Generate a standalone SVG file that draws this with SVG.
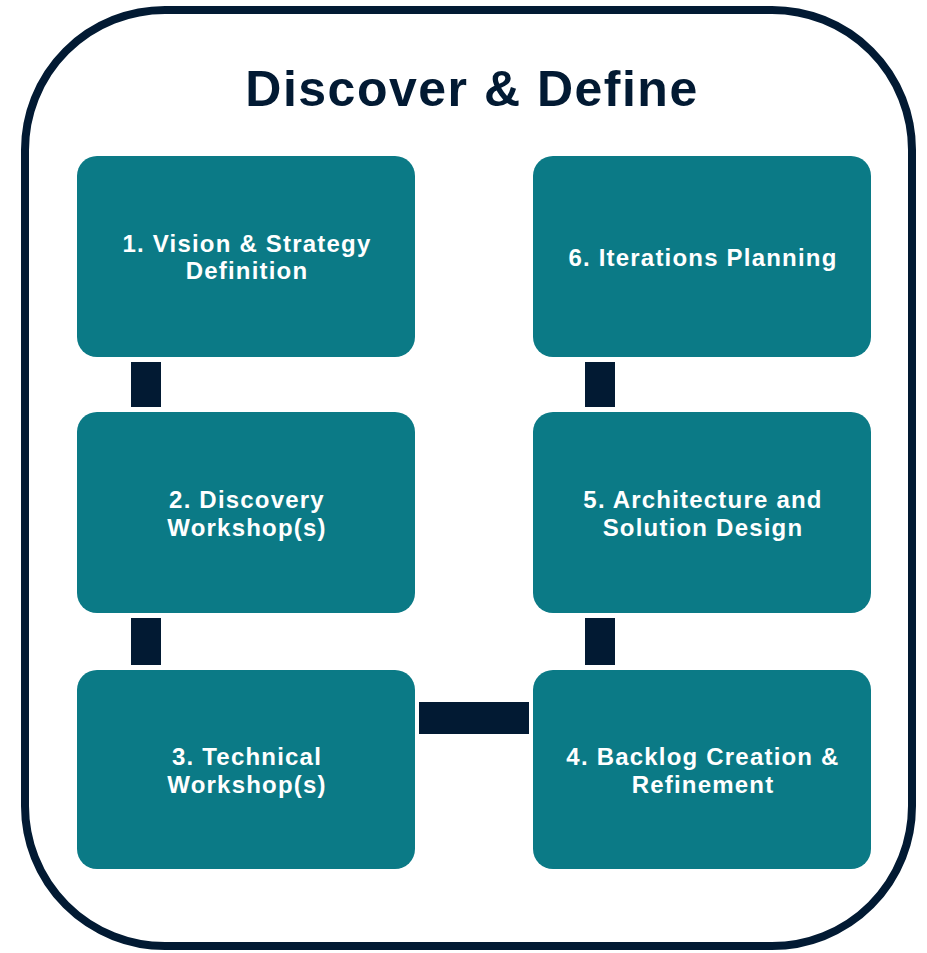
<svg xmlns="http://www.w3.org/2000/svg" width="927" height="953" viewBox="0 0 927 953">
<style>
.frame{fill:#fff;stroke:#021A33;stroke-width:8}
.box{fill:#0B7A86}
.bar{fill:#021A33}
.title{font-family:"Liberation Sans",Arial,sans-serif;font-weight:bold;font-size:50px;letter-spacing:1.5px;fill:#021A33;text-anchor:middle}
.lbl{font-family:"Liberation Sans",Arial,sans-serif;font-weight:bold;font-size:24px;letter-spacing:1.2px;fill:#fff;text-anchor:middle}
</style>
<rect width="927" height="953" fill="#fff"/>
<rect class="frame" x="25" y="10" width="887" height="936" rx="140" ry="140"/>
<text class="title" x="472" y="106">Discover &amp; Define</text>
<g id="connectors">
<rect class="bar" x="131" y="362" width="30" height="45"/>
<rect class="bar" x="131" y="618" width="30" height="47"/>
<rect class="bar" x="419" y="702" width="110" height="32"/>
<rect class="bar" x="585" y="618" width="30" height="47"/>
<rect class="bar" x="585" y="362" width="30" height="45"/>
</g>
<g id="n1"><rect class="box" x="77" y="156" width="338" height="201" rx="20"/>
<text class="lbl" x="247" y="252">1. Vision &amp; Strategy</text><text class="lbl" x="247" y="279">Definition</text></g>
<g id="n2"><rect class="box" x="77" y="412" width="338" height="201" rx="20"/>
<text class="lbl" x="247" y="508">2. Discovery</text><text class="lbl" x="247" y="536">Workshop(s)</text></g>
<g id="n3"><rect class="box" x="77" y="670" width="338" height="199" rx="20"/>
<text class="lbl" x="247" y="765">3. Technical</text><text class="lbl" x="247" y="793">Workshop(s)</text></g>
<g id="n4"><rect class="box" x="533" y="670" width="338" height="199" rx="20"/>
<text class="lbl" x="703" y="765">4. Backlog Creation &amp;</text><text class="lbl" x="703" y="793">Refinement</text></g>
<g id="n5"><rect class="box" x="533" y="412" width="338" height="201" rx="20"/>
<text class="lbl" x="703" y="508">5. Architecture and</text><text class="lbl" x="703" y="536">Solution Design</text></g>
<g id="n6"><rect class="box" x="533" y="156" width="338" height="201" rx="20"/>
<text class="lbl" x="703" y="266">6. Iterations Planning</text></g>
</svg>
